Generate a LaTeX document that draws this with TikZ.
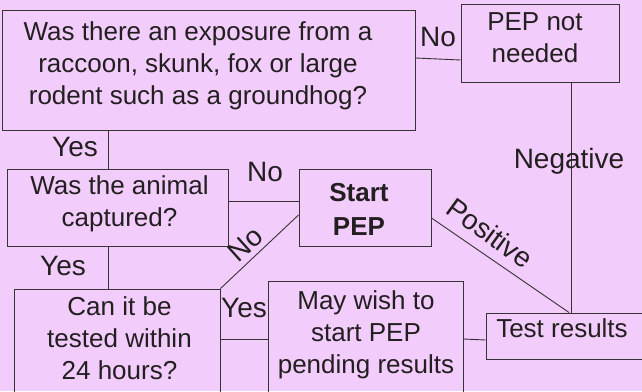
\documentclass[tikz,border=0pt]{standalone}
\usepackage{fontspec}
\setmainfont{Liberation Sans}
\definecolor{bg}{RGB}{242,204,250}
\definecolor{ink}{RGB}{35,31,32}
\definecolor{edgec}{RGB}{55,50,55}
\begin{document}
\begin{tikzpicture}[x=1pt,y=-1pt,
  box/.style={draw=edgec, line width=1pt, inner sep=0pt},
  txt/.style={text=ink, align=center, font=\fontsize{26}{32}\selectfont, inner sep=0pt},
  lbl/.style={text=ink, font=\fontsize{28}{32}\selectfont, inner sep=0pt},
  conn/.style={draw=edgec, line width=0.9pt}]
\fill[bg] (0,0) rectangle (642,391);
\useasboundingbox (0,0) rectangle (642,391);
% boxes
\node[box, minimum width=413pt, minimum height=120pt] (q1) at (208.5,70) {};
\node[box, minimum width=158pt, minimum height=78pt] (pn) at (540,43) {};
\node[box, minimum width=221pt, minimum height=77pt] (q2) at (117.5,207.5) {};
\node[box, minimum width=132pt, minimum height=77pt] (sp) at (365,207.5) {};
\node[box, minimum width=206pt, minimum height=110pt] (q3) at (117,344) {};
\node[box, minimum width=195pt, minimum height=118pt] (mw) at (365.5,340) {};
\node[box, minimum width=160pt, minimum height=46pt] (tr) at (566,336) {};
% texts
\node[txt] (q1t) at (198,66) {Was there an exposure from a\\raccoon, skunk, fox or large\\rodent such as a groundhog?};
\node[txt] (pnt) at (535,37.5) {PEP not\\needed};
\node[txt] (q2t) at (119.5,204) {Was the animal\\captured?};
\node[txt, font=\fontsize{26}{34}\selectfont\bfseries] (spt) at (359,209) {Start\\PEP};
\node[txt] (q3t) at (119.5,338) {Can it be\\tested within\\24 hours?};
\node[txt] (mwt) at (366,335) {May wish to\\start PEP\\pending results};
\node[txt] (trt) at (562,328) {Test results};
% connectors
\draw[conn] (q1.east |- 0,58) -- (pn.west |- 0,60);
\draw[conn] (pn.south -| 571,0) -- (tr.north -| 571,0);
\draw[conn] (q1.south -| 108,0) -- (q2.north -| 108,0);
\draw[conn] (q2.south -| 108,0) -- (q3.north -| 108,0);
\draw[conn] (q2.east |- 0,201) -- (sp.west |- 0,201);
\draw[conn] (q3.north east) -- (sp.west |- 0,215);
\draw[conn] (sp.east |- 0,218) -- (tr.north -| 569,0);
\draw[conn] (q3.east |- 0,339) -- (mw.west |- 0,339);
\draw[conn] (mw.east |- 0,339) -- (tr.west |- 0,340);
% labels
\node[lbl] (l1) at (438,37) {No};
\node[lbl] (l2) at (75,147) {Yes};
\node[lbl] (l3) at (265,172) {No};
\node[lbl, rotate=42] (l4) at (245,244) {No};
\node[lbl] (l5) at (63,266) {Yes};
\node[lbl] (l6) at (244,308) {Yes};
\node[lbl] (l7) at (569,161) {Negative};
\node[lbl, rotate=-36] (l8) at (490,233) {Positive};
\end{tikzpicture}
\end{document}
